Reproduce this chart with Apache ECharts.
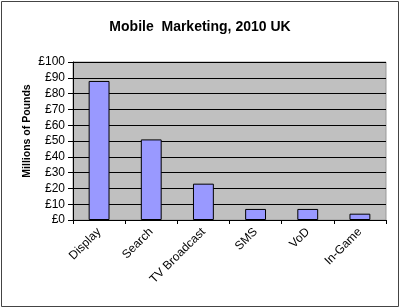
<!DOCTYPE html>
<html>
<head>
<meta charset="utf-8">
<script src="https://cdn.jsdelivr.net/npm/echarts@6/dist/echarts.min.js"></script>
<style>html,body{margin:0;padding:0;background:#fff}#c{width:400px;height:308px}</style>
</head>
<body>
<div id="c"></div>
<script>
const categories = ['Display', 'Search', 'TV Broadcast', 'SMS', 'VoD', 'In-Game'];
const values = [88, 51, 23, 7, 7, 4];
const yTicks = [0, 10, 20, 30, 40, 50, 60, 70, 80, 90, 100];
const yAxisTitle = 'Millions of Pounds';

const FONT = 'Liberation Sans, Arial, sans-serif';
const chart = echarts.init(document.getElementById('c'), null, {renderer: 'canvas'});
chart.setOption({
  animation: false,
  backgroundColor: '#fff',
  textStyle: {fontFamily: FONT},
  title: {
    text: 'Mobile  Marketing, 2010 UK',
    left: 'center',
    top: 15,
    textStyle: {fontSize: 14, fontWeight: 'bold', color: '#000', fontFamily: FONT}
  },
  graphic: [{
    type: 'rect', shape: {x: 1.5, y: 1.5, width: 397, height: 305},
    style: {fill: 'none', stroke: '#444', lineWidth: 1}, silent: true
  }, {
    type: 'text', x: 27, y: 131, rotation: Math.PI / 2,
    style: {text: yAxisTitle, fill: '#000', font: 'bold 10.5px ' + FONT, align: 'center', verticalAlign: 'middle'},
    silent: true
  }],
  grid: {
    left: 73, right: 14, top: 62, bottom: 88,
    show: true, backgroundColor: '#c0c0c0', borderColor: '#999', borderWidth: 1
  },
  xAxis: {
    type: 'category',
    data: categories,
    axisLine: {lineStyle: {color: '#000', width: 1}},
    axisTick: {show: true, length: 4, lineStyle: {color: '#000'}},
    axisLabel: {rotate: 45, margin: 10, fontSize: 12, color: '#000', fontFamily: FONT}
  },
  yAxis: {
    type: 'value',
    min: yTicks[0], max: yTicks[yTicks.length - 1], interval: 10,
    axisLine: {show: true, lineStyle: {color: '#000', width: 1}},
    axisTick: {show: true, length: 5, lineStyle: {color: '#000'}},
    axisLabel: {formatter: '£{value}', fontSize: 12, color: '#000', margin: 8, fontFamily: FONT},
    splitLine: {show: true, lineStyle: {color: '#000', width: 1}}
  },
  series: [{
    type: 'bar',
    data: values,
    barWidth: '40%',
    itemStyle: {color: '#9999ff', borderColor: '#000', borderWidth: 1}
  }]
});
</script>
</body>
</html>
